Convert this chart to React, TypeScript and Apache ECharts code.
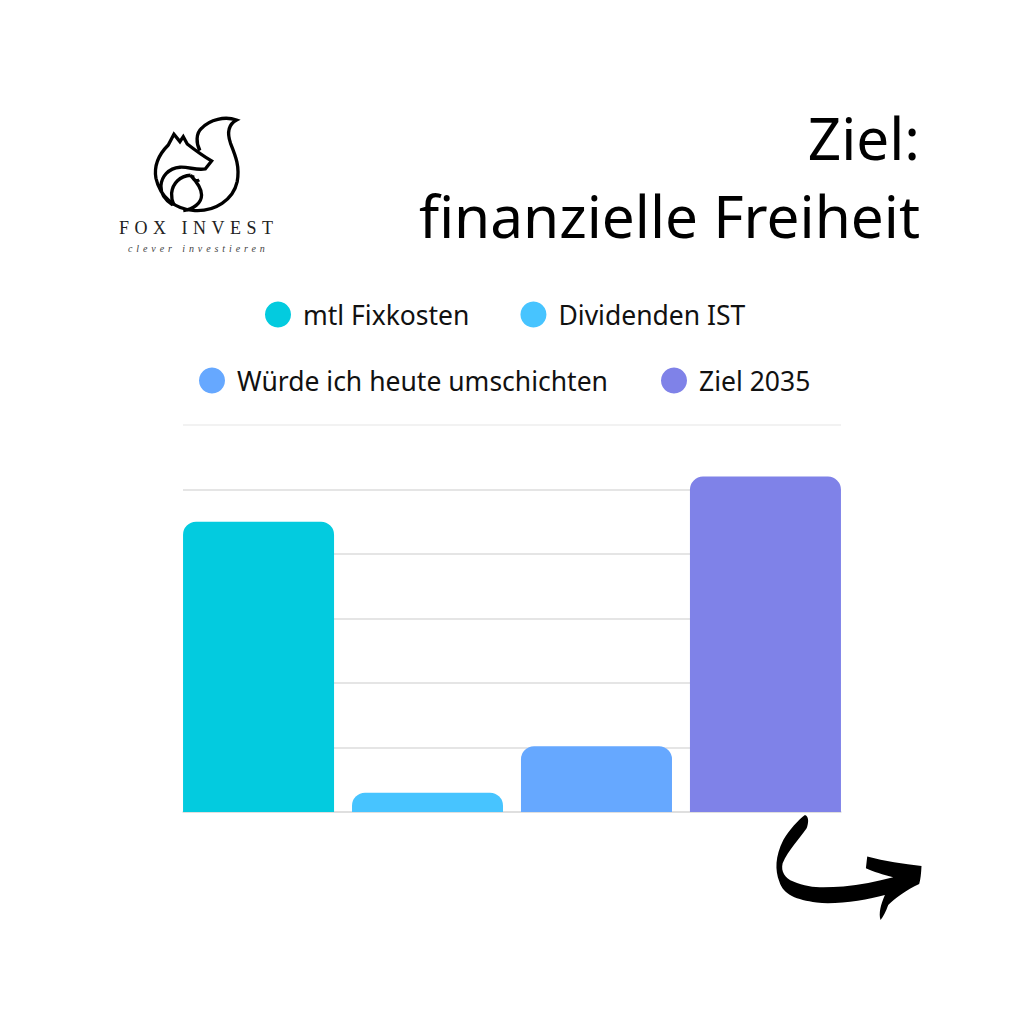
import React, { useEffect, useRef } from "react";
import * as echarts from "echarts";

const categories = ["Ziel"];
const seriesNames = ["mtl Fixkosten", "Dividenden IST", "Würde ich heute umschichten", "Ziel 2035"];
const seriesValues = [2250, 150, 510, 2600];
const seriesColors = ["#03CBDF", "#47C4FF", "#66A8FF", "#7F82E8"];
const legendRowOne = ["mtl Fixkosten", "Dividenden IST"];
const legendRowTwo = ["Würde ich heute umschichten", "Ziel 2035"];
const titleLines = ["Ziel:", "finanzielle Freiheit"];
const gridLineColors = ["#dddddd", "#dddddd", "#dddddd", "#dddddd", "#dddddd", "#dddddd", "#eeeeee"];
const FONT = "Noto Sans";

const FOX_OUTER =
  "M300 152 C288 130 288 100 305 85 C330 58 375 48 410 60 C388 72 380 95 392 130 C408 170 420 200 412 245 C400 300 345 335 285 332 C225 330 180 290 168 235 C160 190 180 160 205 135 L222 103 L240 125 L250 110 L262 132 C285 150 310 168 335 183 L316 207 C290 212 265 200 240 202 C205 205 185 230 183 258 C182 280 195 300 218 315";
const FOX_INNER =
  "M272 226 C240 228 218 250 215 280 C214 295 217 305 222 316 M272 226 C290 245 305 265 305 285 C305 310 280 328 250 332 M278 226 C278 240 288 246 298 240";
const ARROW =
  "M135 45 C148 50 146 70 140 85 C120 115 85 150 68 190 C62 215 75 235 100 245 C150 268 200 262 250 260 C300 255 350 245 400 232 C370 225 340 215 318 205 L322 170 C375 185 430 192 485 198 C484 220 482 240 478 252 C440 270 405 295 385 315 C378 335 370 350 362 360 C356 340 362 315 375 285 C320 300 230 315 170 308 C110 300 70 285 58 245 C45 210 45 170 70 120 C88 90 115 60 135 45 Z";

echarts.graphic.registerShape("foxOuter", echarts.graphic.extendPath(FOX_OUTER, {}));
echarts.graphic.registerShape("foxInner", echarts.graphic.extendPath(FOX_INNER, {}));
echarts.graphic.registerShape("arrowShape", echarts.graphic.extendPath(ARROW, {}));

export default function App() {
  const ref = useRef<HTMLDivElement>(null);
  useEffect(() => {
    const chart = echarts.init(ref.current!, undefined, { renderer: "svg" });
    const legendBase = {
      orient: "horizontal",
      icon: "circle",
      itemWidth: 26,
      itemHeight: 26,
      selectedMode: false,
      textStyle: { fontFamily: FONT, fontSize: 26.5, color: "#111111", padding: [0, 0, 0, 7] },
    };
    const titleStyle = { fontFamily: FONT, fontSize: 58.5, fontWeight: "normal", color: "#000000" };
    chart.setOption({
      animation: false,
      backgroundColor: "#ffffff",
      title: [
        { text: titleLines[0], right: 104, top: 107, textStyle: titleStyle, padding: 0 },
        { text: titleLines[1], right: 104, top: 185, textStyle: titleStyle, padding: 0 },
      ],
      legend: [
        { ...legendBase, itemGap: 51, data: legendRowOne, left: 260, top: 296 },
        { ...legendBase, itemGap: 53, data: legendRowTwo, left: 194, top: 362 },
      ],
      grid: { left: 183, right: 183, top: 425, bottom: 212 },
      xAxis: {
        type: "category",
        data: categories,
        axisLabel: { show: false },
        axisTick: { show: false },
        axisLine: { lineStyle: { color: "#dddddd", width: 1.5 } },
      },
      yAxis: {
        type: "value",
        min: 0,
        max: 3000,
        interval: 500,
        axisLabel: { show: false },
        axisTick: { show: false },
        axisLine: { show: false },
        splitLine: { lineStyle: { color: gridLineColors, width: 1.5 } },
      },
      series: seriesNames.map((name, i) => ({
        name,
        type: "bar",
        data: [seriesValues[i]],
        barWidth: 151,
        barGap: "11.9%",
        barCategoryGap: 0,
        itemStyle: { color: seriesColors[i], borderRadius: [13, 13, 0, 0] },
      })),
      graphic: [
        {
          type: "foxOuter",
          x: 100,
          y: 100,
          scaleX: 1 / 3,
          scaleY: 1 / 3,
          style: { fill: "none", stroke: "#000000", lineWidth: 10 },
        },
        {
          type: "foxInner",
          x: 100,
          y: 100,
          scaleX: 1 / 3,
          scaleY: 1 / 3,
          style: { fill: "none", stroke: "#000000", lineWidth: 10 },
        },
        {
          type: "text",
          id: "brand",
          x: 119,
          y: 219,
          style: { text: "FOX INVEST", fontFamily: "Liberation Serif", fontSize: 18, fill: "#222222" },
        },
        {
          type: "text",
          id: "tagline",
          x: 128,
          y: 243,
          style: {
            text: "clever investieren",
            fontFamily: "Liberation Serif",
            fontStyle: "italic",
            fontSize: 10,
            fill: "#444444",
          },
        },
        {
          type: "arrowShape",
          x: 760,
          y: 800,
          scaleX: 1 / 3,
          scaleY: 1 / 3,
          style: { fill: "#000000" },
        },
      ],
    });
    const spacing: Record<string, string> = { "FOX INVEST": "5.5", "clever investieren": "3.9" };
    ref.current!.querySelectorAll("text").forEach((t) => {
      const s = spacing[t.textContent || ""];
      if (s) t.setAttribute("letter-spacing", s);
    });
    return () => chart.dispose();
  }, []);
  return <div ref={ref} style={{ position: "absolute", left: 0, top: 0, width: 1024, height: 1024 }} />;
}
